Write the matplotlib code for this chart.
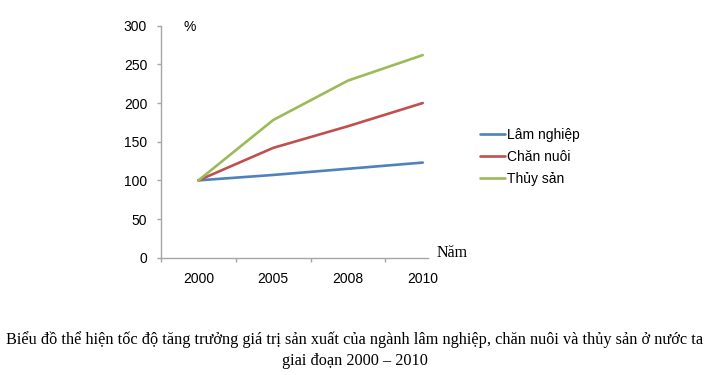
import matplotlib.pyplot as plt
import numpy as np

years = ["2000", "2005", "2008", "2010"]
lam_nghiep = [100, 107, 115, 123]
chan_nuoi = [100, 142, 170, 200]
thuy_san = [100, 178, 229, 262]

series_names = ["Lâm nghiệp", "Chăn nuôi", "Thủy sản"]
series_colors = ["#4F81BD", "#C0504D", "#9BBB59"]

fig = plt.figure(figsize=(7.1, 3.75), dpi=100)
ax = fig.add_axes([0.2268, 0.3128, 0.376, 0.6187])

x = np.arange(len(years))
for vals, name, col in zip([lam_nghiep, chan_nuoi, thuy_san], series_names, series_colors):
    ax.plot(x, vals, color=col, linewidth=1.9, label=name, solid_capstyle="round")

ax.set_xlim(-0.5, 3.07)
ax.set_ylim(0, 300)
ax.set_yticks(np.arange(0, 301, 50))

# category labels without marks, marks between categories
ax.set_xticks(x)
ax.set_xticklabels(years)
ax.set_xticks([-0.5, 0.5, 1.5, 2.5], minor=True)
ax.tick_params(axis="x", which="major", length=0, pad=10, labelsize=10,
               labelfontfamily="Liberation Sans")
ax.tick_params(axis="x", which="minor", length=3, width=1, color="#A6A6A6", direction="out")
ax.tick_params(axis="y", length=3, width=1, color="#A6A6A6", direction="out", pad=7,
               labelsize=10, labelfontfamily="Liberation Sans")

for side in ["top", "right"]:
    ax.spines[side].set_visible(False)
for side in ["left", "bottom"]:
    ax.spines[side].set_color("#A6A6A6")
    ax.spines[side].set_linewidth(1)

fig.text(183 / 710, 1 - 27 / 375, "%", fontsize=10, family="Liberation Sans", va="center")
fig.text(437 / 710, 1 - 253 / 375, "Năm", fontsize=11.5, family="Liberation Serif", va="center")

leg = fig.legend(loc="upper left", bbox_to_anchor=(474 / 710, 1 - 122 / 375), frameon=False,
                 prop={"family": "Liberation Sans", "size": 10}, handlelength=1.8,
                 handletextpad=0.2, labelspacing=0.6, borderaxespad=0)

fig.text(0.5, 1 - 340 / 375,
         "Biểu đồ thể hiện tốc độ tăng trưởng giá trị sản xuất của ngành lâm nghiệp, chăn nuôi và thủy sản ở nước ta",
         ha="center", va="center", fontsize=11.7, family="Liberation Serif")
fig.text(0.5, 1 - 361 / 375, "giai đoạn 2000 – 2010",
         ha="center", va="center", fontsize=11.7, family="Liberation Serif")

fig.savefig("out.png", dpi=100)
